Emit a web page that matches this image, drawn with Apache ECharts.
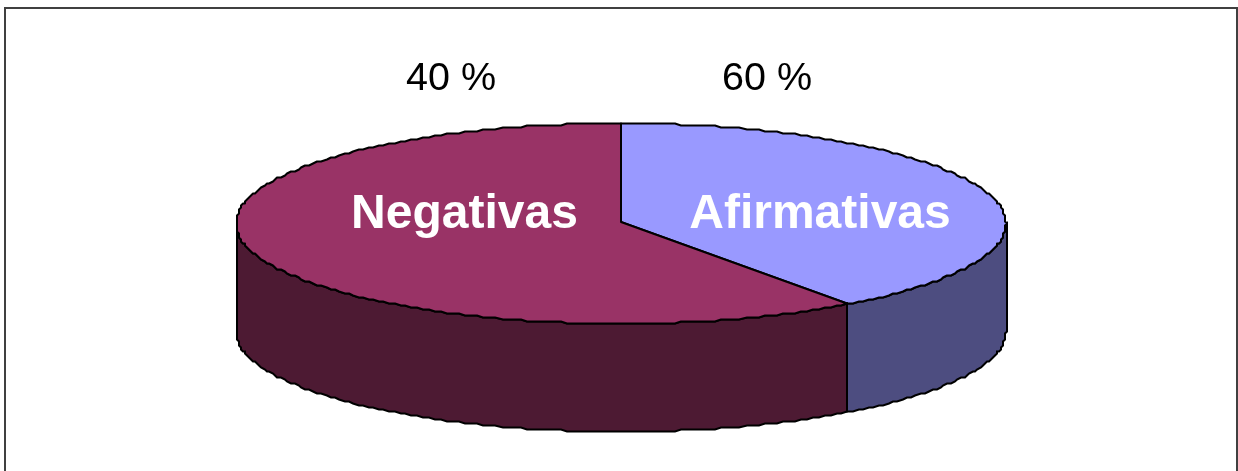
<!DOCTYPE html>
<html lang="es">

<head>
    <meta charset="UTF-8">
    <title>Afirmativas / Negativas</title>
    <script src="https://cdn.jsdelivr.net/npm/echarts@6/dist/echarts.min.js"></script>
    <style>
        body {
            margin: 0;
            background: #fff;
        }

        #root {
            width: 1238px;
            height: 471px;
        }
    </style>
</head>

<body>

    <div id="root"></div>
    <script>

        // data as drawn in the picture (the outer labels really are swapped there)
        var categories = ['Afirmativas', 'Negativas'];
        var sliceValues = [40, 60];
        var outerLabels = ['60 %', '40 %'];

        var topColors = ['#9999ff', '#993366'];
        var wallColors = ['#4d4d80', '#4d1a33'];

        // pie geometry
        var cx = 621, cy = 223.5, rx = 385, ry = 100, depth = 108;
        var stepDeg = 1, snapY = 2, snapX = 2;

        // text anchors (top of the text box)
        var namePos = [[820, 191], [464.5, 191]];
        var outerPos = [[767, 59], [451, 59]];

        var total = sliceValues.reduce(function (a, b) { return a + b; }, 0);

        // deg is clockwise from the top of the ellipse, snapped a bit for the stepped outline
        function rim(deg, drop) {
            var r = deg * Math.PI / 180;
            return [
                cx + Math.round(rx * Math.sin(r) / snapX) * snapX,
                cy - Math.round(ry * Math.cos(r) / snapY) * snapY + (drop || 0)
            ];
        }

        function arc(from, to, drop) {
            var pts = [];
            var n = Math.max(1, Math.ceil((to - from) / stepDeg));
            for (var i = 0; i <= n; i++) {
                pts.push(rim(from + (to - from) * i / n, drop));
            }
            return pts;
        }

        function renderSlice(params, api) {
            var i = params.dataIndex;
            var before = 0;
            for (var k = 0; k < i; k++) {
                before += sliceValues[k];
            }
            var start = before / total * 360;
            var end = start + api.value(0) / total * 360;

            var children = [];

            // outer wall, only the part facing the viewer (90..270 deg)
            var wallFrom = Math.max(start, 90), wallTo = Math.min(end, 270);
            if (wallTo > wallFrom) {
                var upper = arc(wallFrom, wallTo, 0);
                var lower = arc(wallFrom, wallTo, depth).reverse();
                children.push({
                    type: 'polygon',
                    shape: { points: upper.concat(lower) },
                    style: { fill: wallColors[i], stroke: '#000', lineWidth: 2 }
                });
            }

            // top face
            children.push({
                type: 'polygon',
                shape: { points: [[cx, cy - 1.5]].concat(arc(start, end, 0)) },
                style: { fill: topColors[i], stroke: '#000', lineWidth: 2, lineJoin: 'round' }
            });

            children.push({
                type: 'text',
                z2: 10,
                style: {
                    x: namePos[i][0], y: namePos[i][1], text: categories[i],
                    font: 'bold 48px "Liberation Sans", Arial, sans-serif',
                    fill: '#fff', textAlign: 'center', textBaseline: 'top'
                }
            });
            children.push({
                type: 'text',
                z2: 10,
                style: {
                    x: outerPos[i][0], y: outerPos[i][1], text: outerLabels[i],
                    font: '39.5px "Liberation Sans", Arial, sans-serif',
                    fill: '#000', textAlign: 'center', textBaseline: 'top'
                }
            });

            return { type: 'group', children: children };
        }

        var mychart = echarts.init(document.getElementById('root'));

        mychart.setOption({
            animation: false,
            backgroundColor: '#fff',
            graphic: [{
                type: 'rect',
                shape: { x: 5, y: 8, width: 1232, height: 500 },
                style: { fill: 'none', stroke: '#404040', lineWidth: 2 }
            }],
            series: [{
                type: 'custom',
                coordinateSystem: 'none',
                silent: true,
                renderItem: renderSlice,
                data: sliceValues.map(function (v, i) {
                    return { name: categories[i], value: [v] };
                })
            }]
        });

    </script>

</body>

</html>
